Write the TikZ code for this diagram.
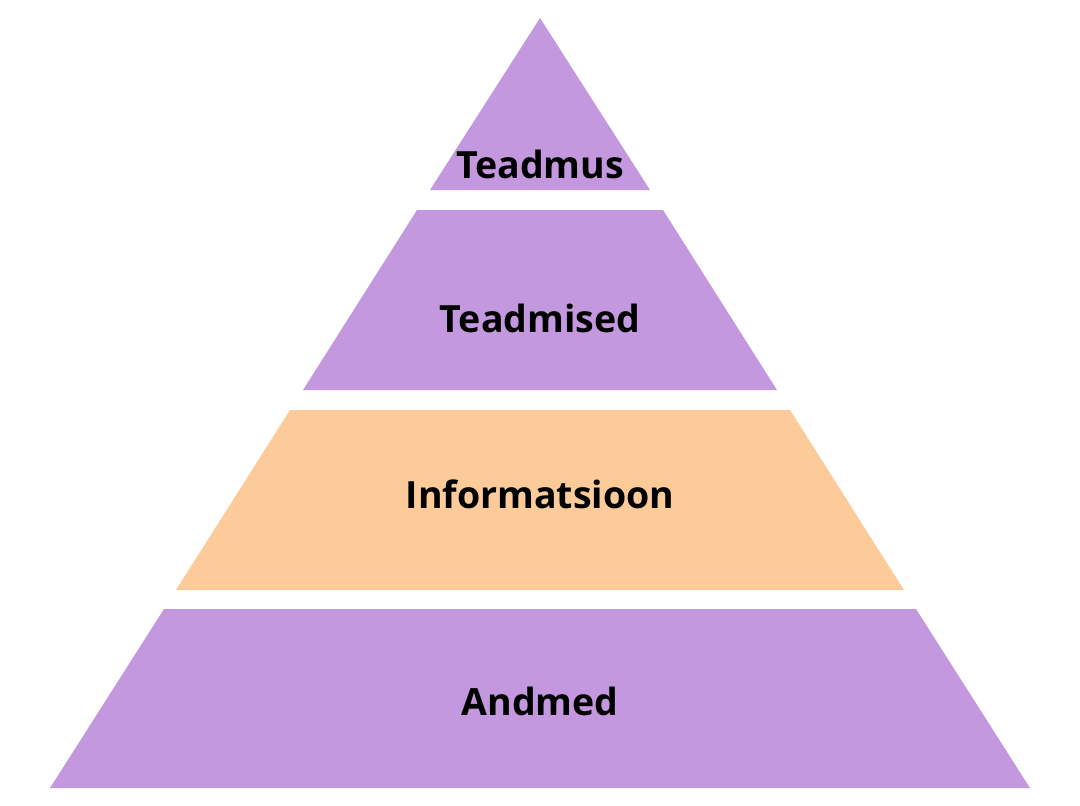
\documentclass[tikz,border=0pt]{standalone}
\usepackage{fontspec}
\setmainfont{Open Sans}
\definecolor{lvl}{RGB}{195,152,222}
\definecolor{info}{RGB}{252,203,153}
\begin{document}
\begin{tikzpicture}[x=1pt,y=-1pt,
  layer/.style={fill=lvl,draw=none},
  lbl/.style={anchor=base,inner sep=0pt,font=\fontsize{37.5}{42}\selectfont\bfseries,text=black}]
\useasboundingbox (0,0) rectangle (1080,806);
\fill[white] (0,0) rectangle (1080,806);
\fill[layer] (540,18) -- (650,190) -- (430,190) -- cycle;
\fill[layer] (417,210) -- (663,210) -- (777,390) -- (303,390) -- cycle;
\fill[info] (290,410) -- (790,410) -- (904,590) -- (176,590) -- cycle;
\fill[layer] (164,609) -- (916,609) -- (1030,788) -- (50,788) -- cycle;
\node[lbl] (t1) at (540,178) {Teadmus};
\node[lbl] (t2) at (540,332) {Teadmised};
\node[lbl] (t3) at (540,508) {Informatsioon};
\node[lbl] (t4) at (540,715) {Andmed};
\end{tikzpicture}
\end{document}
